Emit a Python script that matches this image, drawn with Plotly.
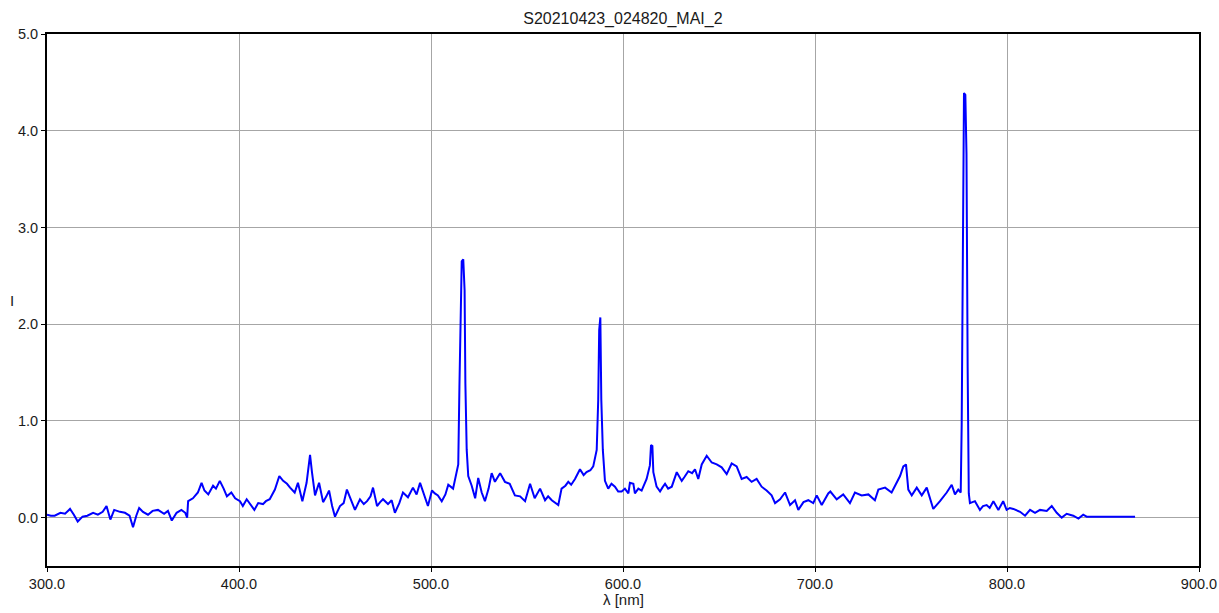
import plotly.graph_objects as go

# Spectrum readings (wavelength in nm, intensity I)
wavelength = [
    300.0, 302, 304, 307, 309.4, 312, 314, 316, 318.5, 321, 324, 326.5, 329, 331, 333, 335, 338,
    340.6, 343, 344.8, 346.5, 348, 350, 352.6, 355, 357.8, 361, 363, 365, 367.5, 370, 372, 373,
    373.5, 376, 378.6, 380.5, 382, 384, 386.5, 388, 390, 392, 393.7, 396, 398, 400.5, 402, 404,
    406, 408, 410, 412.5, 414, 416, 418.7, 421, 423, 425, 426.6, 429, 430.7, 433, 435.2, 436.5,
    437, 438, 439.6, 441.7, 443.8, 445.5, 446.9, 448.5, 450, 452.6, 454.5, 456.2, 458.8, 460.4,
    463, 465, 466.7, 468.5, 469.8, 471.9, 473.5, 475, 477.6, 479.5, 481.2, 483.5, 485.4, 488,
    490.6, 492.5, 494.3, 496.9, 498.4, 500.5, 502, 503.6, 505.6, 507.5, 509, 511.5, 513.4, 514.2,
    514.8, 515.3, 516.0, 516.8, 517.5, 517.9, 518.6, 519.4, 521.2, 523, 524.6, 526.4, 528.1, 530,
    531.6, 533.3, 534.8, 536, 538.5, 541, 543.7, 546.4, 549, 551.6, 554, 556.8, 559.4, 561, 562.9,
    566.3, 568, 570, 571.5, 573, 575, 577.6, 579.5, 581, 583, 584.5, 586.3, 587.1, 587.6, 588.2,
    588.7, 589.5, 590.6, 592.3, 594, 595.8, 597.5, 599.3, 601, 602.8, 603.6, 605.4, 606.2, 608,
    609.7, 612.3, 614, 614.6, 615.3, 615.8, 617.5, 619.3, 620.5, 621.9, 623.5, 625.4, 628, 630.6,
    632, 634, 636, 637.5, 639.2, 641, 643.6, 646.2, 648.8, 651.4, 654, 656.6, 659.2, 661.8, 664.4,
    667, 669.6, 672.2, 674.8, 677.4, 679.2, 681.8, 684.4, 687, 689.6, 691.3, 694, 696.5, 699.1,
    700.9, 703.5, 706.9, 708, 711.3, 714.7, 718.2, 720.8, 724.3, 727.8, 731.2, 733, 736.5, 739.9,
    742.5, 744.3, 746, 747.4, 748.6, 750.4, 753, 755.6, 758.2, 760.8, 761.6, 765.1, 768.6, 771.2,
    772.9, 774.6, 775.9, 776.4, 777.0, 777.6, 778.3, 778.9, 779.5, 780.1, 780.7, 783.3, 785.9,
    787.5, 789.4, 791, 792.9, 795.5, 798, 799.8, 801.5, 803.3, 806.8, 809.4, 812, 814.6, 817.2,
    820.7, 823.3, 825.9, 828.5, 831.1, 834.5, 837.2, 839.7, 841.5, 866.7,
]
intensity = [
    0.03, 0.02, 0.02, 0.05, 0.04, 0.09, 0.03, -0.04, 0.01, 0.02, 0.05, 0.03, 0.06, 0.12, -0.02, 0.08, 0.06,
    0.05, 0.02, -0.10, 0.02, 0.10, 0.06, 0.03, 0.07, 0.08, 0.04, 0.07, -0.03, 0.05, 0.08, 0.05, 0.00,
    0.17, 0.20, 0.26, 0.36, 0.28, 0.24, 0.33, 0.30, 0.38, 0.30, 0.22, 0.26, 0.20, 0.17, 0.12, 0.19,
    0.14, 0.08, 0.15, 0.14, 0.17, 0.19, 0.29, 0.43, 0.38, 0.35, 0.31, 0.26, 0.36, 0.17, 0.36, 0.55,
    0.65, 0.47, 0.23, 0.36, 0.16, 0.22, 0.28, 0.12, 0.01, 0.12, 0.15, 0.29, 0.16, 0.08,
    0.19, 0.14, 0.17, 0.22, 0.31, 0.12, 0.16, 0.19, 0.14, 0.18, 0.05, 0.15, 0.26, 0.21,
    0.31, 0.24, 0.36, 0.21, 0.12, 0.28, 0.25, 0.23, 0.17, 0.24, 0.34, 0.30, 0.46, 0.55,
    1.35, 2.14, 2.65, 2.67, 2.35, 1.39, 0.70, 0.43, 0.33, 0.20, 0.41, 0.26, 0.17, 0.30,
    0.46, 0.37, 0.42, 0.46, 0.37, 0.35, 0.23, 0.22, 0.17, 0.35, 0.20, 0.30, 0.18, 0.22, 0.18,
    0.13, 0.30, 0.33, 0.37, 0.34, 0.40, 0.50, 0.44, 0.47, 0.49, 0.53, 0.70, 1.22, 1.94, 2.07,
    1.22, 0.70, 0.38, 0.30, 0.35, 0.32, 0.27, 0.27, 0.30, 0.25, 0.36, 0.35, 0.25, 0.30,
    0.28, 0.40, 0.54, 0.75, 0.74, 0.47, 0.32, 0.27, 0.31, 0.35, 0.30, 0.32, 0.47, 0.38,
    0.42, 0.48, 0.46, 0.50, 0.40, 0.55, 0.64, 0.57, 0.55, 0.52, 0.45, 0.56, 0.53, 0.40, 0.42,
    0.37, 0.40, 0.32, 0.28, 0.23, 0.15, 0.19, 0.26, 0.13, 0.18, 0.08, 0.16, 0.18, 0.15,
    0.23, 0.13, 0.25, 0.27, 0.19, 0.24, 0.15, 0.26, 0.23, 0.24, 0.18, 0.29, 0.31, 0.26,
    0.36, 0.43, 0.53, 0.55, 0.29, 0.23, 0.31, 0.23, 0.31, 0.12, 0.09, 0.17, 0.26, 0.34,
    0.24, 0.29, 0.26, 0.96, 2.33, 4.39, 4.37, 3.76, 1.56, 0.25, 0.15, 0.17, 0.08,
    0.12, 0.13, 0.10, 0.17, 0.08, 0.17, 0.08, 0.10, 0.09, 0.06, 0.02, 0.08, 0.05, 0.08,
    0.07, 0.12, 0.05, 0.00, 0.04, 0.02, -0.01, 0.03, 0.01, 0.01,
]

title_text = "S20210423_024820_MAI_2"
x_title = "λ [nm]"
y_title = "I"

FONT = "Liberation Sans, Arial, sans-serif"
TXT = "#1a1a1a"

fig = go.Figure()
fig.add_trace(go.Scatter(
    x=wavelength, y=intensity, mode="lines",
    line=dict(color="#0000ff", width=2),
    showlegend=False, hoverinfo="x+y",
))

axis_common = dict(
    showline=True, linecolor="black", linewidth=2, mirror=True,
    showgrid=True, gridcolor="#a6a6a6", gridwidth=1,
    zeroline=False, ticks="outside", ticklen=4, tickcolor="black", tickwidth=1,
    tickfont=dict(family=FONT, size=14.5, color=TXT),
    tickformat=".1f", automargin=False,
)

fig.update_layout(
    width=1219, height=613,
    margin=dict(l=47, r=20, t=34, b=47),
    paper_bgcolor="white", plot_bgcolor="white",
    title=dict(text=title_text, x=0.511, xanchor="center", y=1 - 18 / 613, yanchor="middle",
               font=dict(family=FONT, size=16, color=TXT)),
    xaxis=dict(range=[300, 900], tick0=300, dtick=100, **axis_common),
    yaxis=dict(range=[-0.5, 5.0], tick0=0, dtick=1, **axis_common),
    annotations=[
        dict(text=x_title, xref="paper", yref="paper", x=0.5, y=-0.063, xanchor="center",
             yanchor="middle", showarrow=False, font=dict(family=FONT, size=15, color=TXT)),
        dict(text=y_title, xref="paper", yref="paper", x=-0.0304, y=0.5, xanchor="center",
             yanchor="middle", showarrow=False, font=dict(family=FONT, size=15, color=TXT)),
    ],
)

fig.write_html(
    "out.html",
    config={"displayModeBar": False},
    post_script="document.body.style.margin='0';document.body.style.overflow='hidden';",
)
